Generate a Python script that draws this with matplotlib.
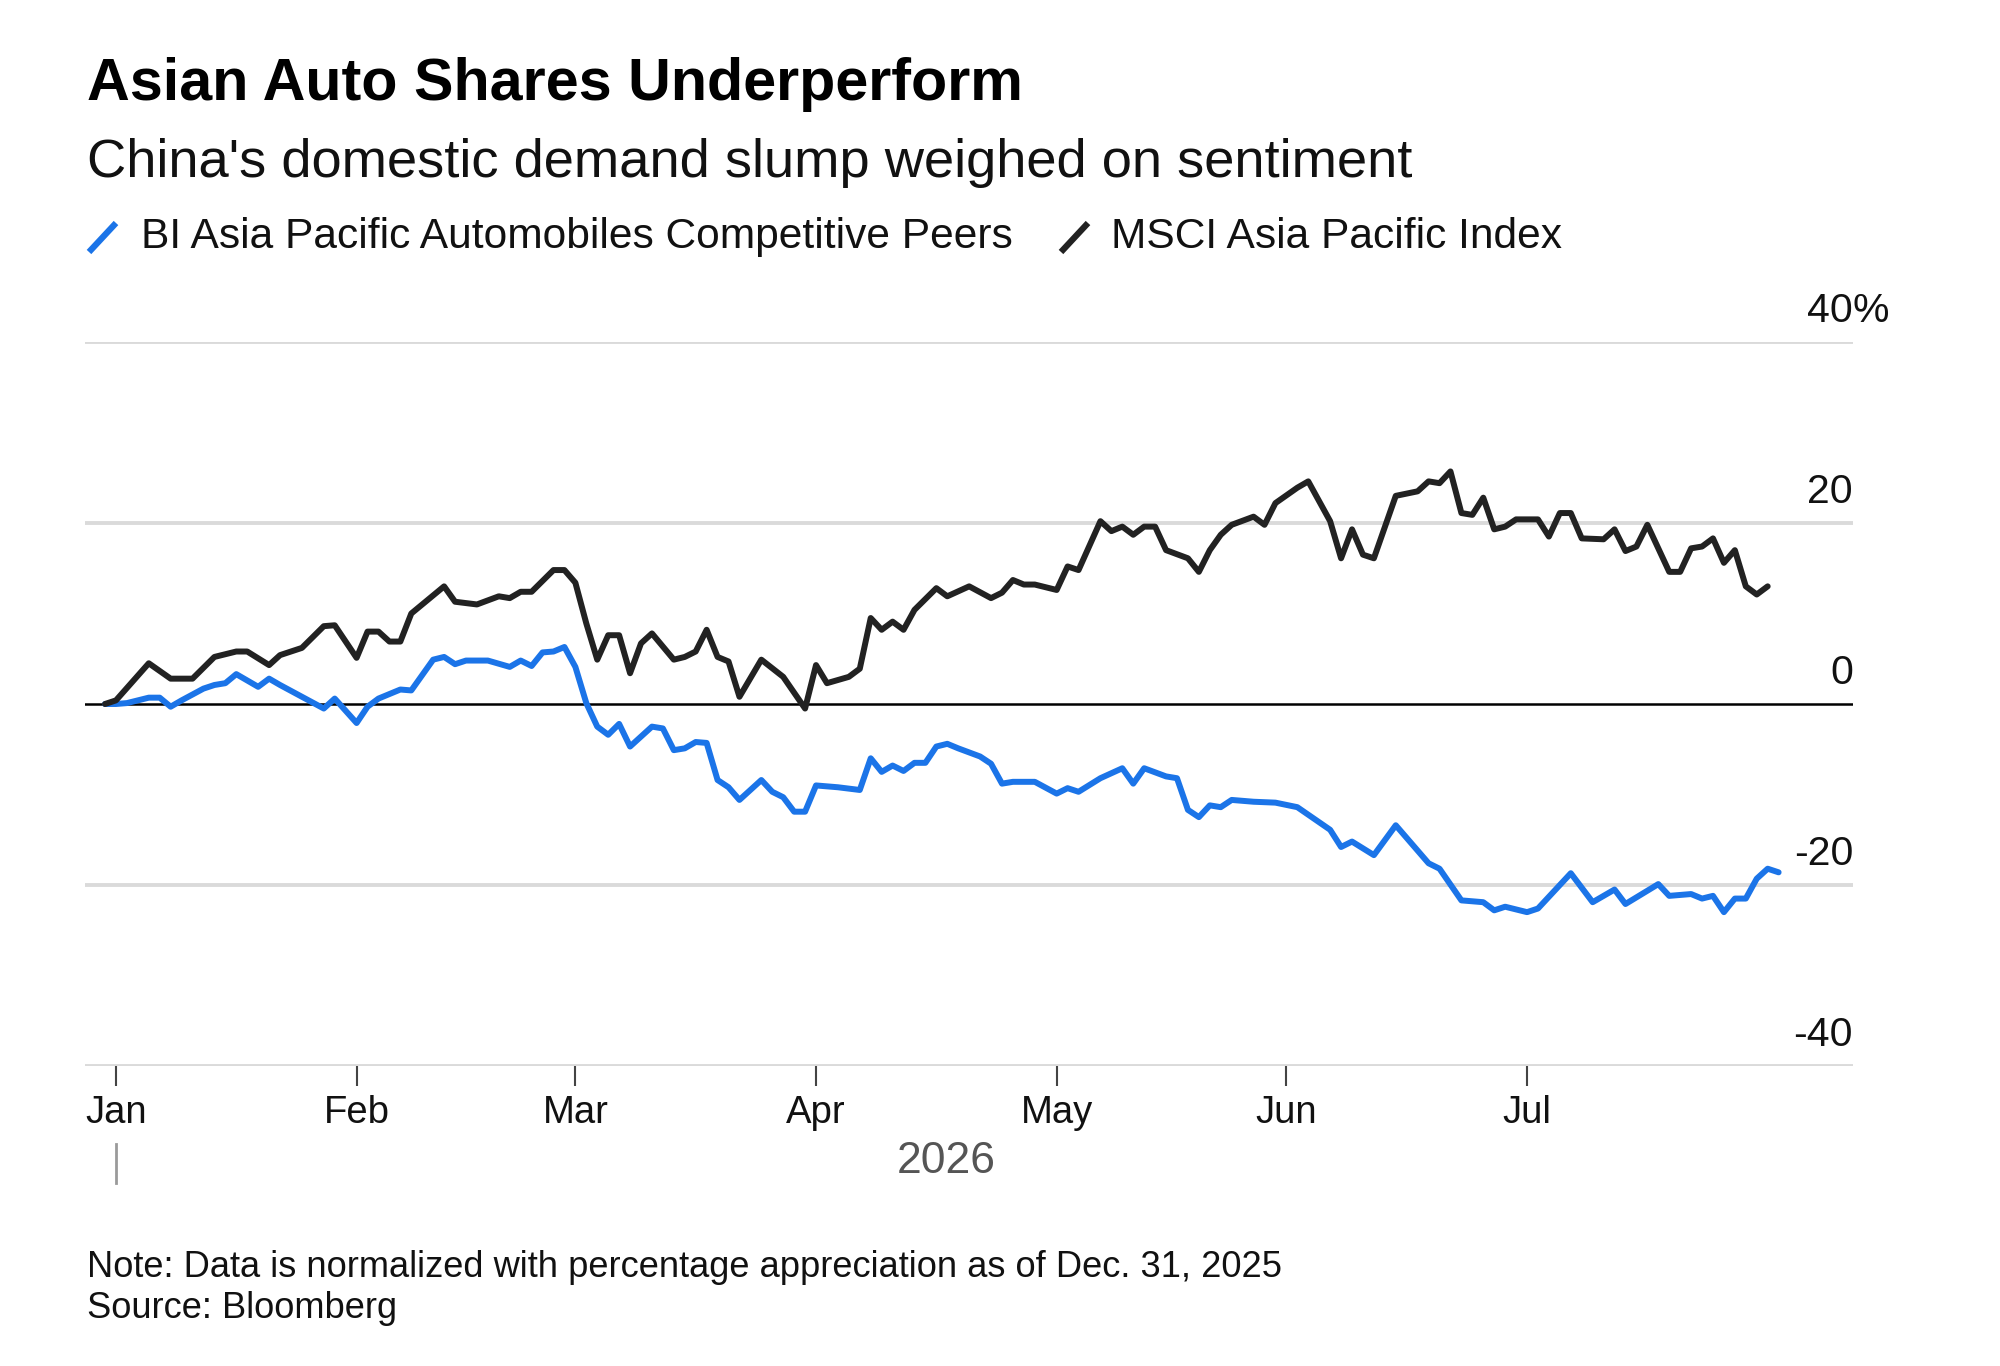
import matplotlib
matplotlib.use("Agg")
import matplotlib.pyplot as plt
import matplotlib.transforms as mtransforms
from matplotlib.lines import Line2D
import numpy as np

plt.rcParams['font.family'] = ['Liberation Sans', 'DejaVu Sans']

title = "Asian Auto Shares Underperform"
subtitle = "China's domestic demand slump weighed on sentiment"
series_names = ["BI Asia Pacific Automobiles Competitive Peers", "MSCI Asia Pacific Index"]
note = "Note: Data is normalized with percentage appreciation as of Dec. 31, 2025"
source = "Source: Bloomberg"

# x = trading-day index counted from Jan 1, 2026 (-1 = Dec 31, 2025); values in %
auto_tday = [-1, 0, 1, 3, 4, 5, 6, 8, 9, 10,
             11, 13, 14, 15, 17, 19, 20, 22, 23, 24,
             26, 27, 29, 30, 31, 32, 34, 36, 37, 38,
             39, 40, 41, 42, 43, 44, 45, 46, 47, 49,
             50, 51, 52, 53, 54, 55, 56, 57, 59, 60,
             61, 62, 63, 64, 66, 68, 69, 70, 71, 72,
             73, 74, 75, 76, 77, 79, 80, 81, 82, 84,
             86, 87, 88, 90, 92, 93, 94, 96, 97, 98,
             99, 100, 101, 102, 104, 106, 108, 111, 112, 113,
             115, 117, 120, 121, 123, 125, 126, 127, 129, 130,
             133, 135, 137, 138, 141, 142, 144, 145, 146, 147,
             148, 149, 150, 151, 152]
auto_vals = [0.0, 0.0, 0.1, 0.7, 0.7, -0.3, 0.4, 1.7, 2.1, 2.3,
             3.3, 1.9, 2.8, 2.1, 0.8, -0.5, 0.6, -2.1, -0.3, 0.6,
             1.6, 1.5, 4.9, 5.2, 4.4, 4.8, 4.8, 4.1, 4.8, 4.2,
             5.7, 5.8, 6.3, 4.1, 0.1, -2.5, -3.4, -2.2, -4.7, -2.5,
             -2.7, -5.1, -4.9, -4.2, -4.3, -8.4, -9.2, -10.6, -8.4, -9.7,
             -10.3, -11.9, -11.9, -9.0, -9.2, -9.5, -6.0, -7.5, -6.8, -7.4,
             -6.5, -6.5, -4.7, -4.4, -4.9, -5.8, -6.6, -8.8, -8.6, -8.6,
             -9.9, -9.3, -9.7, -8.2, -7.1, -8.8, -7.1, -8.0, -8.2, -11.7,
             -12.5, -11.2, -11.4, -10.6, -10.8, -10.9, -11.4, -13.9, -15.8, -15.2,
             -16.7, -13.4, -17.6, -18.2, -21.7, -21.9, -22.8, -22.4, -23.0, -22.6,
             -18.7, -21.9, -20.5, -22.1, -19.9, -21.2, -21.0, -21.5, -21.2, -23.0,
             -21.5, -21.5, -19.3, -18.2, -18.6]

msci_tday = [-1, 0, 3, 5, 7, 9, 11, 12, 14, 15,
             17, 19, 20, 22, 23, 24, 25, 26, 27, 30,
             31, 33, 35, 36, 37, 38, 40, 41, 42, 43,
             44, 45, 46, 47, 48, 49, 51, 52, 53, 54,
             55, 56, 57, 59, 61, 63, 64, 65, 67, 68,
             69, 70, 71, 72, 73, 75, 76, 78, 80, 81,
             82, 83, 84, 86, 87, 88, 90, 91, 92, 93,
             94, 95, 96, 98, 99, 100, 101, 102, 104, 105,
             106, 108, 109, 111, 112, 113, 114, 115, 117, 119,
             120, 121, 122, 123, 124, 125, 126, 127, 128, 130,
             131, 132, 133, 134, 136, 137, 138, 139, 140, 142,
             143, 144, 145, 146, 147, 148, 149, 150, 151]
msci_vals = [0.0, 0.4, 4.5, 2.8, 2.8, 5.2, 5.8, 5.8, 4.3, 5.4,
             6.2, 8.6, 8.7, 5.1, 8.0, 8.0, 6.9, 6.9, 10.0, 13.0,
             11.3, 11.0, 11.9, 11.7, 12.4, 12.4, 14.8, 14.8, 13.4, 8.9,
             4.9, 7.6, 7.6, 3.4, 6.7, 7.8, 4.9, 5.2, 5.8, 8.2,
             5.2, 4.7, 0.8, 4.9, 3.0, -0.5, 4.3, 2.3, 3.0, 3.9,
             9.5, 8.2, 9.1, 8.2, 10.4, 12.8, 11.9, 13.0, 11.7, 12.3,
             13.7, 13.2, 13.2, 12.6, 15.2, 14.8, 20.2, 19.1, 19.6, 18.7,
             19.6, 19.6, 17.0, 16.1, 14.6, 17.0, 18.7, 19.8, 20.7, 19.8,
             22.2, 23.9, 24.6, 20.2, 16.1, 19.3, 16.5, 16.1, 23.0, 23.5,
             24.6, 24.4, 25.7, 21.1, 20.9, 22.8, 19.3, 19.6, 20.4, 20.4,
             18.5, 21.1, 21.1, 18.3, 18.2, 19.3, 16.9, 17.4, 19.8, 14.6,
             14.6, 17.2, 17.4, 18.3, 15.6, 17.0, 13.0, 12.1, 13.0]

month_starts = ["2026-01-01", "2026-02-01", "2026-03-01", "2026-04-01",
                "2026-05-01", "2026-06-01", "2026-07-01"]
month_labels = ["Jan", "Feb", "Mar", "Apr", "May", "Jun", "Jul"]
year_label = "2026"
y_ticks = [40, 20, 0, -20, -40]
y_labels = ["40", "20", "0", "-20", "-40"]

BLUE = "#1b74e8"
BLACK = "#222222"
GRID = "#dadada"
TEXT = "#111111"

# month ticks on a trading-day axis: first weekday of each month
tick_pos = np.busday_count("2026-01-01",
                           np.busday_offset(np.array(month_starts, dtype="datetime64[D]"), 0, roll="forward"))

W, H = 2000, 1366
fig = plt.figure(figsize=(W / 100, H / 100), dpi=100)
fig.patch.set_facecolor("white")

def fx(px):
    return px / W

def fy(py):
    return 1 - py / H

ax = fig.add_axes([fx(85), fy(1066), fx(1853) - fx(85), fy(342) - fy(1066)])
ax.set_facecolor("white")

for y in y_ticks:
    if y == 0:
        continue
    ax.axhline(y, color=GRID, lw=2.8, zorder=0)
ax.axhline(0, color="black", lw=1.8, zorder=1)

ax.plot(auto_tday, auto_vals, color=BLUE, lw=4.3, solid_joinstyle="round", solid_capstyle="round", zorder=3)
ax.plot(msci_tday, msci_vals, color=BLACK, lw=4.3, solid_joinstyle="round", solid_capstyle="round", zorder=3)

ax.set_xlim(-2.83, 158.8)
ax.set_ylim(-40, 40)

for s in ax.spines.values():
    s.set_visible(False)

ax.set_xticks(tick_pos)
ax.set_xticklabels(month_labels, fontsize=27.5, color=TEXT)
ax.tick_params(axis="x", length=14.4, width=1.5, color="#444444", pad=6.5)
ax.set_yticks([])

# right-hand y labels sitting above the gridlines
ytrans = mtransforms.offset_copy(ax.get_yaxis_transform(), fig=fig, x=0, y=14.4, units="points")
for v, lab in zip(y_ticks, y_labels):
    ax.text(1.0, v, lab, transform=ytrans, ha="right", va="baseline", fontsize=29.5,
            color=TEXT, clip_on=False)
    if v == max(y_ticks):
        ax.text(1.0, v, "%", transform=ytrans, ha="left", va="baseline", fontsize=29.5,
                color=TEXT, clip_on=False)

# year label and year separator tick
fig.text(fx(946), fy(1173), year_label, ha="center", va="baseline", fontsize=32, color="#555555")
yr_trans = mtransforms.blended_transform_factory(ax.transData, fig.transFigure)
fig.add_artist(Line2D([tick_pos[0], tick_pos[0]], [fy(1144), fy(1183)], transform=yr_trans,
                      color="#9a9a9a", lw=2.0))

# titles
fig.text(fx(87), fy(100), title, fontsize=42.7, fontweight="bold", ha="left", va="baseline", color="#000000")
fig.text(fx(87), fy(177), subtitle, fontsize=39.2, ha="left", va="baseline", color=TEXT)

# legend
fig.add_artist(Line2D([fx(89), fx(116)], [fy(252), fy(223)], color=BLUE, lw=4.5, solid_capstyle="butt"))
fig.text(fx(141), fy(248), series_names[0], fontsize=30.6, ha="left", va="baseline", color=TEXT)
fig.add_artist(Line2D([fx(1061), fx(1088)], [fy(252), fy(223)], color=BLACK, lw=4.5, solid_capstyle="butt"))
fig.text(fx(1111), fy(248), series_names[1], fontsize=30.6, ha="left", va="baseline", color=TEXT)

# footer
fig.text(fx(87), fy(1277), note, fontsize=26.1, ha="left", va="baseline", color=TEXT)
fig.text(fx(87), fy(1318), source, fontsize=26.1, ha="left", va="baseline", color=TEXT)

fig.savefig("out.png", dpi=100, facecolor="white")
